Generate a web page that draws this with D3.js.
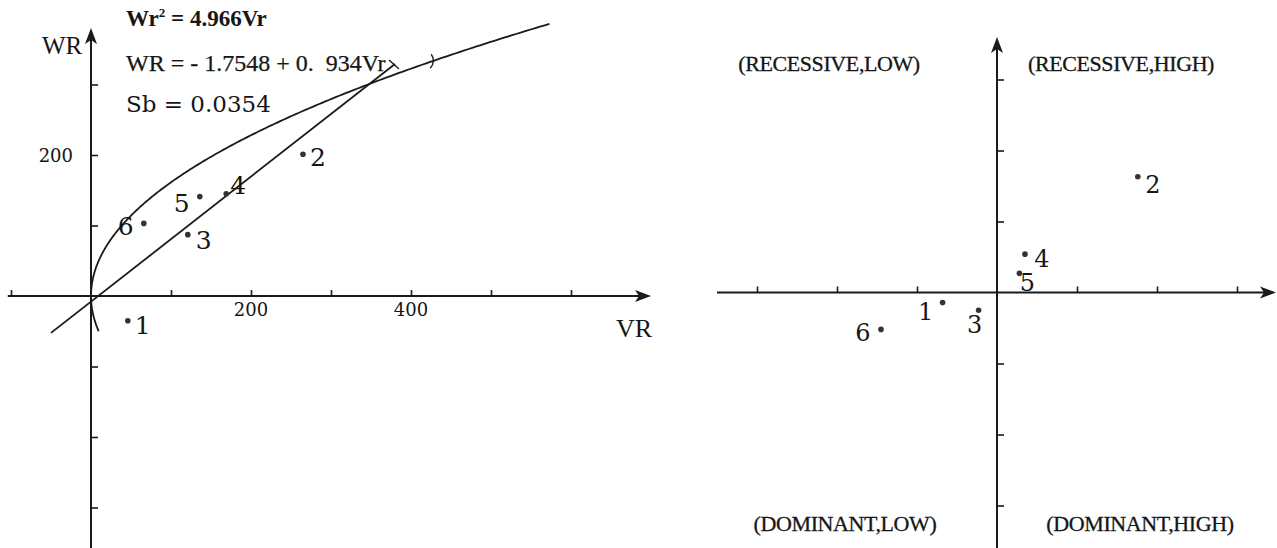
<!DOCTYPE html>
<html>
<head>
<meta charset="utf-8">
<script src="https://cdn.jsdelivr.net/npm/d3@7/dist/d3.min.js"></script>
<style>
  html, body { margin: 0; padding: 0; background: #fff; }
  svg { display: block; }
  text { fill: #161616; }
</style>
</head>
<body>
<svg id="chart" width="1277" height="548"></svg>
<script>
// ---- Left panel: WR against VR with parabola and regression line ----
const pointIds = ["1", "2", "3", "4", "5", "6"];
const leftVR = [46, 265, 121, 169, 136, 66];
const leftWR = [-35, 201, 87, 145, 141, 103];

// Axis tick values and labelled ticks
const leftXTicks = [-100, 100, 200, 300, 400, 500, 600];
const leftXLabels = [200, 400];
const leftYTicks = [300, 200, 100, -100, -200, -300];
const leftYLabels = [200];

// Fitted curves drawn in axis units
const parabolaK = 260;          // WR^2 = k * VR
const lineSlope = 0.887;        // WR = a + b * VR
const lineIntercept = -8;
const lineRange = [-50, 380];
const parabolaWR = [-50, 386];

// Annotation text
const eqLine1 = "= 4.966Vr";
const eqLine2 = "WR = - 1.7548 + 0.  934Vr";
const eqLine3 = "Sb = 0.0354";

// ---- Right panel: quadrant chart ----
const rightX = [-0.68, 1.76, -0.23, 0.35, 0.28, -1.45];
const rightY = [-0.14, 1.63, -0.25, 0.54, 0.27, -0.52];
const rightXTicks = [-3, -2, -1, 1, 2, 3];
const rightYTicks = [3, 2, 1, -1, -2, -3];
const quadrantLabels = ["(RECESSIVE,LOW)", "(RECESSIVE,HIGH)", "(DOMINANT,LOW)", "(DOMINANT,HIGH)"];

const svg = d3.select("#chart");
const ink = "#1a1a1a";

function arrowHead(g, x, y, dir) {
  // filled arrowhead pointing "right" or "up" with its tip at (x, y)
  const L = 16, W = 6;
  const pts = dir === "right"
    ? [[x, y], [x - L, y - W], [x - L + 4, y], [x - L, y + W]]
    : [[x, y], [x - W, y + L], [x, y + L - 4], [x + W, y + L]];
  g.append("path").attr("d", "M" + pts.map(p => p.join(",")).join(" L") + " Z")
    .attr("fill", ink);
}

// ================= LEFT PANEL =================
const xL = d3.scaleLinear().domain([0, 100]).range([91, 171]);
const yL = d3.scaleLinear().domain([0, 100]).range([296, 225.5]);
const gL = svg.append("g");

// axis lines
gL.append("line").attr("x1", xL(-104)).attr("x2", 648).attr("y1", yL(0)).attr("y2", yL(0))
  .attr("stroke", ink).attr("stroke-width", 2);
gL.append("line").attr("x1", xL(0)).attr("x2", xL(0)).attr("y1", 36).attr("y2", 548)
  .attr("stroke", ink).attr("stroke-width", 2);
arrowHead(gL, 651, yL(0), "right");
arrowHead(gL, xL(0), 28, "up");

// ticks via d3 axes
const xAxisL = d3.axisTop(xL).tickValues(leftXTicks).tickSize(6).tickFormat("");
gL.append("g").attr("transform", `translate(0,${yL(0)})`).call(xAxisL)
  .call(g => g.select(".domain").remove())
  .call(g => g.selectAll(".tick line").attr("stroke", ink).attr("stroke-width", 1.6));
const yAxisL = d3.axisRight(yL).tickValues(leftYTicks).tickSize(7).tickFormat("");
gL.append("g").attr("transform", `translate(${xL(0)},0)`).call(yAxisL)
  .call(g => g.select(".domain").remove())
  .call(g => g.selectAll(".tick line").attr("stroke", ink).attr("stroke-width", 1.6));

// tick labels
gL.selectAll(".xlab").data(leftXLabels).enter().append("text")
  .attr("x", d => xL(d)).attr("y", yL(0) + 20)
  .attr("text-anchor", "middle").attr("font-family", "DejaVu Serif").attr("font-size", 18)
  .text(d => d);
gL.selectAll(".ylab").data(leftYLabels).enter().append("text")
  .attr("x", xL(0) - 18).attr("y", d => yL(d) + 7)
  .attr("text-anchor", "end").attr("font-family", "DejaVu Serif").attr("font-size", 18)
  .text(d => d);

// axis titles
gL.append("text").attr("x", 42).attr("y", 54).attr("font-family", "Liberation Serif")
  .attr("font-size", 25).text("WR");
gL.append("text").attr("x", 616).attr("y", 337).attr("font-family", "Liberation Serif")
  .attr("font-size", 26).text("VR");

// parabola WR^2 = k VR
const parab = d3.range(parabolaWR[0], parabolaWR[1] + 0.5, 2).map(w => [w * w / parabolaK, w]);
gL.append("path")
  .attr("d", d3.line().x(d => xL(d[0])).y(d => yL(d[1])).curve(d3.curveBasis)(parab))
  .attr("fill", "none").attr("stroke", ink).attr("stroke-width", 1.8);

// regression line
gL.append("line")
  .attr("x1", xL(lineRange[0])).attr("y1", yL(lineIntercept + lineSlope * lineRange[0]))
  .attr("x2", xL(lineRange[1])).attr("y2", yL(lineIntercept + lineSlope * lineRange[1]))
  .attr("stroke", ink).attr("stroke-width", 1.8);

// small end marks on the two curves
{
  const ex = xL(lineRange[1]), ey = yL(lineIntercept + lineSlope * lineRange[1]);
  gL.append("path").attr("d", `M ${ex - 6} ${ey - 4} L ${ex + 4} ${ey + 5}`)
    .attr("stroke", ink).attr("stroke-width", 1.4).attr("fill", "none");
  const pw = 333, px = xL(pw * pw / parabolaK), py = yL(pw);
  gL.append("path").attr("d", `M ${px - 1} ${py - 7} Q ${px + 4} ${py} ${px - 2} ${py + 7}`)
    .attr("stroke", ink).attr("stroke-width", 1.4).attr("fill", "none");
}

// points and labels
const leftLabelOffset = { "1": [15, 5], "2": [15, 3], "3": [16, 6], "4": [12, -8], "5": [-18, 7], "6": [-18, 3] };
const leftPts = pointIds.map((id, i) => ({ id, x: leftVR[i], y: leftWR[i] }));
gL.selectAll(".pt").data(leftPts).enter().append("circle")
  .attr("cx", d => xL(d.x)).attr("cy", d => yL(d.y)).attr("r", 2.8).attr("fill", "#333");
gL.selectAll(".ptlab").data(leftPts).enter().append("text")
  .attr("x", d => xL(d.x) + leftLabelOffset[d.id][0])
  .attr("y", d => yL(d.y) + leftLabelOffset[d.id][1])
  .attr("text-anchor", "middle").attr("dominant-baseline", "central")
  .attr("font-family", "DejaVu Serif").attr("font-size", 25)
  .text(d => d.id);

// annotation equations
const eq1 = gL.append("text").attr("x", 126).attr("y", 26)
  .attr("font-family", "Liberation Serif").attr("font-weight", "bold").attr("font-size", 23);
eq1.append("tspan").text("Wr");
eq1.append("tspan").attr("dy", -9).attr("font-size", 13).text("2");
eq1.append("tspan").attr("dy", 9).text(" " + eqLine1);
gL.append("text").attr("x", 126).attr("y", 71)
  .style("white-space", "pre")
  .attr("font-family", "Liberation Serif").attr("font-size", 24)
  .attr("stroke", "#161616").attr("stroke-width", 0.25).text(eqLine2);
gL.append("text").attr("x", 126).attr("y", 112)
  .attr("font-family", "DejaVu Serif").attr("font-size", 23).text(eqLine3);

// ================= RIGHT PANEL =================
const xR = d3.scaleLinear().domain([0, 1]).range([997, 1077]);
const yR = d3.scaleLinear().domain([0, 1]).range([292.5, 221.5]);
const gR = svg.append("g");

gR.append("line").attr("x1", xR(-3.5)).attr("x2", 1272).attr("y1", yR(0)).attr("y2", yR(0))
  .attr("stroke", ink).attr("stroke-width", 2);
gR.append("line").attr("x1", xR(0)).attr("x2", xR(0)).attr("y1", 46).attr("y2", 548)
  .attr("stroke", ink).attr("stroke-width", 2);
arrowHead(gR, 1276, yR(0), "right");
arrowHead(gR, xR(0), 37, "up");

const xAxisR = d3.axisTop(xR).tickValues(rightXTicks).tickSize(6).tickFormat("");
gR.append("g").attr("transform", `translate(0,${yR(0)})`).call(xAxisR)
  .call(g => g.select(".domain").remove())
  .call(g => g.selectAll(".tick line").attr("stroke", ink).attr("stroke-width", 1.6));
const yAxisR = d3.axisRight(yR).tickValues(rightYTicks).tickSize(7).tickFormat("");
gR.append("g").attr("transform", `translate(${xR(0)},0)`).call(yAxisR)
  .call(g => g.select(".domain").remove())
  .call(g => g.selectAll(".tick line").attr("stroke", ink).attr("stroke-width", 1.6));

// quadrant captions
const quadPos = [[829, 71], [1121, 71], [845, 531], [1140, 531]];
gR.selectAll(".quad").data(quadrantLabels).enter().append("text")
  .attr("x", (d, i) => quadPos[i][0]).attr("y", (d, i) => quadPos[i][1])
  .attr("text-anchor", "middle").attr("font-family", "Liberation Serif").attr("font-size", 22)
  .attr("letter-spacing", -0.4).attr("stroke", "#161616").attr("stroke-width", 0.3)
  .text(d => d);

const rightLabelOffset = { "1": [-17, 10], "2": [15, 8], "3": [-4, 15], "4": [17, 5], "5": [8, 10], "6": [-18, 4] };
const rightPts = pointIds.map((id, i) => ({ id, x: rightX[i], y: rightY[i] }));
gR.selectAll(".pt").data(rightPts).enter().append("circle")
  .attr("cx", d => xR(d.x)).attr("cy", d => yR(d.y)).attr("r", 2.8).attr("fill", "#333");
gR.selectAll(".ptlab").data(rightPts).enter().append("text")
  .attr("x", d => xR(d.x) + rightLabelOffset[d.id][0])
  .attr("y", d => yR(d.y) + rightLabelOffset[d.id][1])
  .attr("text-anchor", "middle").attr("dominant-baseline", "central")
  .attr("font-family", "DejaVu Serif").attr("font-size", 24)
  .text(d => d.id);
</script>
</body>
</html>
